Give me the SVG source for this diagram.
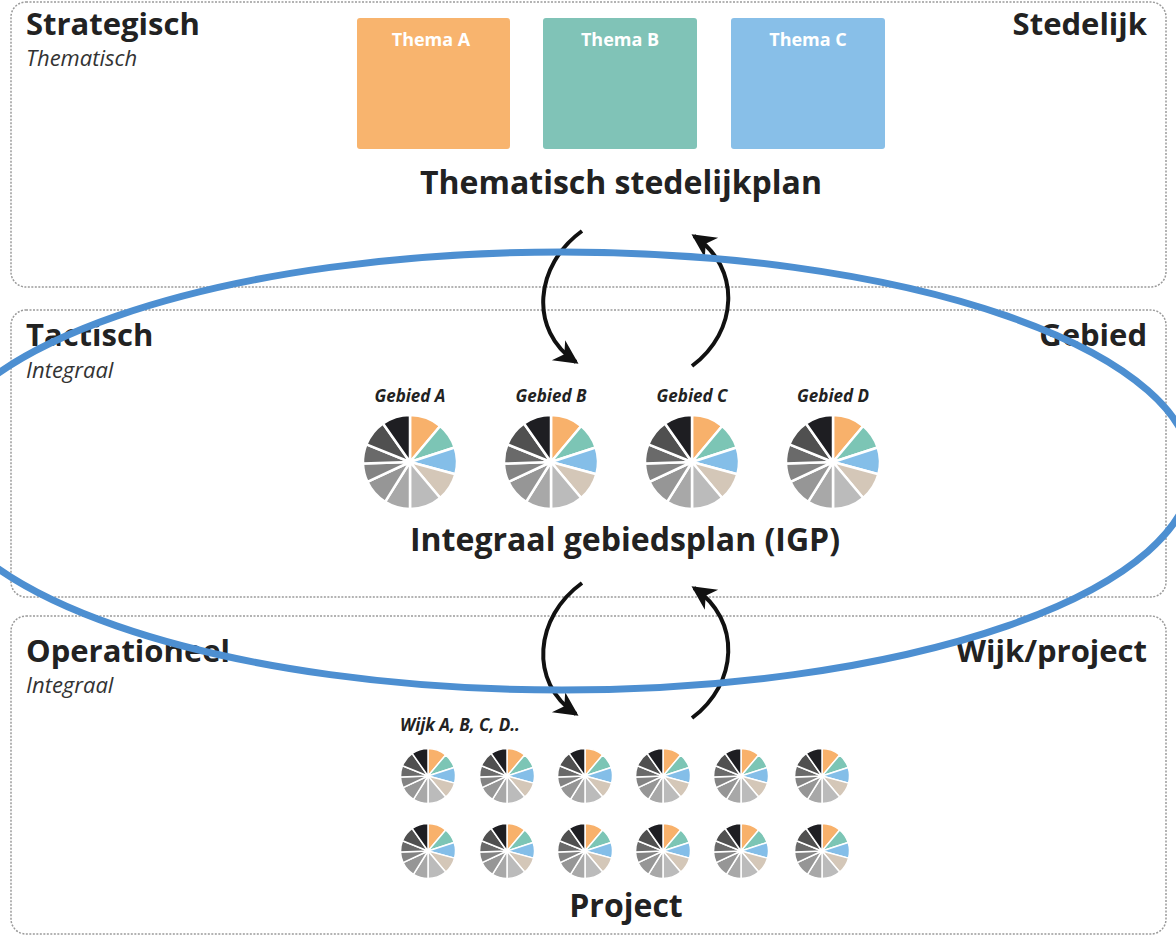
<svg xmlns="http://www.w3.org/2000/svg" xmlns:xlink="http://www.w3.org/1999/xlink" width="1176" height="938" viewBox="0 0 1176 938">
<style>
.panel{fill:#fff;stroke:#9a9a9a;stroke-width:1.5;stroke-dasharray:2 1.5}
.h{font-family:"Open Sans","Noto Sans",sans-serif;font-weight:bold;fill:#222}
.sub{font-family:"Open Sans","Noto Sans",sans-serif;font-style:italic;fill:#333;font-size:22px}
.lbl{font-family:"Open Sans","Noto Sans",sans-serif;font-style:italic;font-weight:bold;fill:#222;font-size:17px}
.thema{font-family:"Open Sans","Noto Sans",sans-serif;font-weight:bold;fill:#fff;font-size:18px}
.arr{fill:none;stroke:#111;stroke-width:4}
.sl{stroke:#fff;stroke-width:2.5;stroke-linejoin:round}
</style>
<defs>
<marker id="ah" markerUnits="userSpaceOnUse" markerWidth="28" markerHeight="28" viewBox="-24 -14 28 28" refX="0" refY="0" orient="auto">
<path d="M3,0 L-21,-12 L-14,0 L-21,12 Z" fill="#111"/>
</marker>
<g id="pie">
<path class="sl" fill="#F8B16B" d="M0 0 L0 -47 A47 47 0 0 1 30.2 -36 Z"/>
<path class="sl" fill="#7CC5B5" d="M0 0 L30.2 -36 A47 47 0 0 1 44.7 -14.5 Z"/>
<path class="sl" fill="#84BEE8" d="M0 0 L44.7 -14.5 A47 47 0 0 1 45.4 12.2 Z"/>
<path class="sl" fill="#D4C7B8" d="M0 0 L45.4 12.2 A47 47 0 0 1 30.2 36 Z"/>
<path class="sl" fill="#BBBBBB" d="M0 0 L30.2 36 A47 47 0 0 1 0 47 Z"/>
<path class="sl" fill="#A8A8A8" d="M0 0 L0 47 A47 47 0 0 1 -24.9 39.9 Z"/>
<path class="sl" fill="#969696" d="M0 0 L-24.9 39.9 A47 47 0 0 1 -42.6 19.9 Z"/>
<path class="sl" fill="#838383" d="M0 0 L-42.6 19.9 A47 47 0 0 1 -47 1.6 Z"/>
<path class="sl" fill="#6A6A6A" d="M0 0 L-47 1.6 A47 47 0 0 1 -43.6 -17.6 Z"/>
<path class="sl" fill="#505050" d="M0 0 L-43.6 -17.6 A47 47 0 0 1 -27 -38.5 Z"/>
<path class="sl" fill="#1E1E22" d="M0 0 L-27 -38.5 A47 47 0 0 1 0 -47 Z"/>
<circle r="3" fill="#fff"/>
</g>
</defs>

<g id="panel-strategisch">
<rect class="panel" x="11" y="2" width="1155" height="285" rx="15"/>
<text class="h" x="26" y="35" font-size="31">Strategisch</text>
<text class="sub" x="26" y="66">Thematisch</text>
<text class="h" x="1147" y="35" font-size="31" text-anchor="end">Stedelijk</text>
</g>
<g id="panel-tactisch">
<rect class="panel" x="11" y="310" width="1155" height="287" rx="15"/>
<text class="h" x="26" y="346" font-size="31">Tactisch</text>
<text class="sub" x="26" y="378">Integraal</text>
<text class="h" x="1147" y="346" font-size="31" text-anchor="end">Gebied</text>
</g>
<g id="panel-operationeel">
<rect class="panel" x="11" y="616" width="1155" height="318" rx="15"/>
<text class="h" x="26" y="662" font-size="31">Operationeel</text>
<text class="sub" x="26" y="693">Integraal</text>
<text class="h" x="1147" y="662" font-size="31" text-anchor="end">Wijk/project</text>
</g>

<g id="thema-a"><rect x="357" y="18" width="153" height="131" rx="3" fill="#F8B46E"/><text class="thema" x="431" y="46" text-anchor="middle">Thema A</text></g>
<g id="thema-b"><rect x="543" y="18" width="154" height="131" rx="3" fill="#80C3B7"/><text class="thema" x="620" y="46" text-anchor="middle">Thema B</text></g>
<g id="thema-c"><rect x="731" y="18" width="154" height="131" rx="3" fill="#88BFE8"/><text class="thema" x="808" y="46" text-anchor="middle">Thema C</text></g>
<g id="title-stedelijkplan"><text class="h" x="621" y="194" font-size="32" text-anchor="middle">Thematisch stedelijkplan</text></g>

<g id="gebied-a"><text class="lbl" x="410" y="402" text-anchor="middle">Gebied A</text><use xlink:href="#pie" transform="translate(410,462)"/></g>
<g id="gebied-b"><text class="lbl" x="551" y="402" text-anchor="middle">Gebied B</text><use xlink:href="#pie" transform="translate(551,462)"/></g>
<g id="gebied-c"><text class="lbl" x="692" y="402" text-anchor="middle">Gebied C</text><use xlink:href="#pie" transform="translate(692,462)"/></g>
<g id="gebied-d"><text class="lbl" x="833" y="402" text-anchor="middle">Gebied D</text><use xlink:href="#pie" transform="translate(833,462)"/></g>
<g id="title-igp"><text class="h" x="625" y="551" font-size="32" text-anchor="middle">Integraal gebiedsplan (IGP)</text></g>

<g id="wijken">
<text class="lbl" x="400" y="731" font-size="16">Wijk A, B, C, D..</text>
<use xlink:href="#pie" transform="translate(428,776) scale(0.585)"/>
<use xlink:href="#pie" transform="translate(507,776) scale(0.585)"/>
<use xlink:href="#pie" transform="translate(585,776) scale(0.585)"/>
<use xlink:href="#pie" transform="translate(663,776) scale(0.585)"/>
<use xlink:href="#pie" transform="translate(741,776) scale(0.585)"/>
<use xlink:href="#pie" transform="translate(822,776) scale(0.585)"/>
<use xlink:href="#pie" transform="translate(428,851) scale(0.585)"/>
<use xlink:href="#pie" transform="translate(507,851) scale(0.585)"/>
<use xlink:href="#pie" transform="translate(585,851) scale(0.585)"/>
<use xlink:href="#pie" transform="translate(663,851) scale(0.585)"/>
<use xlink:href="#pie" transform="translate(741,851) scale(0.585)"/>
<use xlink:href="#pie" transform="translate(822,851) scale(0.585)"/>
</g>
<g id="title-project"><text class="h" x="626" y="917" font-size="32" text-anchor="middle">Project</text></g>

<g id="connectors">
<path class="arr" marker-end="url(#ah)" d="M582 231 C535 265 528 330 576 362"/>
<path class="arr" marker-end="url(#ah)" d="M692 366 C738 332 742 268 694 236"/>
<path class="arr" marker-end="url(#ah)" d="M582 583 C535 617 528 682 576 714"/>
<path class="arr" marker-end="url(#ah)" d="M692 718 C738 684 742 620 694 588"/>
</g>

<g id="highlight">
<ellipse cx="562" cy="471" rx="630" ry="219" fill="none" stroke="#4D8FD1" stroke-width="7"/>
</g>
</svg>
